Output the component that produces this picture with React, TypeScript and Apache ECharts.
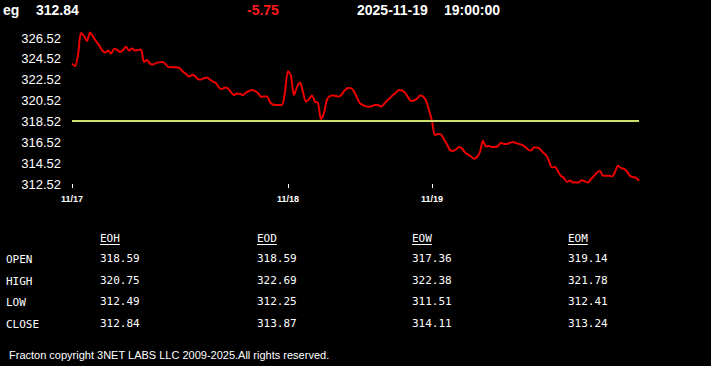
import React, { useEffect, useRef } from "react";
import * as echarts from "echarts";

// ---- data ----
const tickerName = "eg";
const lastPrice = "312.84";
const priceChange = "-5.75";
const dateText = "2025-11-19";
const timeText = "19:00:00";
const prevClose = 318.59;

const price: number[] = [
  324.07, 323.83, 324.89, 327.0, 326.71, 326.23, 327.06, 326.66, 326.23, 325.85,
  325.37, 325.13, 325.32, 325.03, 325.48, 325.42, 325.18, 325.37, 325.68, 325.32,
  325.51, 325.32, 325.37, 325.42, 324.22, 324.41, 324.07, 323.98, 324.12, 324.19,
  324.22, 324.09, 323.77, 323.71, 323.71, 323.71, 323.59, 323.29, 323.07, 322.83,
  322.97, 322.87, 322.59, 322.54, 322.68, 322.75, 322.54, 322.33, 322.2, 321.77,
  321.63, 321.79, 321.68, 321.34, 321.05, 321.2, 321.15, 321.05, 321.29, 321.44,
  321.53, 321.44, 321.25, 320.89, 320.91, 320.91, 320.38, 320.14, 320.11, 320.09,
  320.09, 321.37, 323.35, 322.87, 321.05, 321.82, 322.25, 321.34, 320.43, 320.67,
  321.01, 320.41, 320.29, 318.75, 319.33, 320.62, 320.96, 321.02, 320.96, 320.91,
  321.15, 321.53, 321.74, 321.72, 321.39, 320.81, 320.26, 320.09, 319.97, 319.93,
  320.0, 320.09, 320.09, 319.95, 320.19, 320.53, 320.77, 321.05, 321.29, 321.53,
  321.49, 321.29, 320.86, 320.48, 320.53, 320.69, 321.01, 320.91, 320.53, 319.62,
  318.56, 317.22, 317.31, 317.27, 316.79, 316.31, 315.78, 315.68, 315.83, 316.07,
  315.92, 315.54, 315.35, 315.16, 314.94, 315.11, 315.59, 316.67, 316.12, 316.16,
  316.07, 316.07, 316.16, 316.48, 316.36, 316.36, 316.48, 316.55, 316.45, 316.37,
  316.26, 316.1, 315.83, 315.73, 316.02, 316.02, 315.88, 315.54, 315.3, 314.73,
  314.1, 314.18, 313.72, 313.29, 313.1, 312.71, 312.86, 312.66, 312.66, 312.69,
  312.88, 312.76, 312.66, 313.0, 313.29, 313.62, 313.77, 313.32, 313.32, 313.31,
  313.24, 313.67, 314.27, 314.05, 313.96, 313.72, 313.29, 313.19, 313.11, 312.84,
];

const xTickIndex = [0, 72, 120];
const xTickLabels = ["11/17", "11/18", "11/19"];

const yMin = 312.52;
const yMax = 327.2;
const yStep = 2;

const tableColumns = ["EOH", "EOD", "EOW", "EOM"];
const tableRows = ["OPEN", "HIGH", "LOW", "CLOSE"];
const eohValues = [318.59, 320.75, 312.49, 312.84];
const eodValues = [318.59, 322.69, 312.25, 313.87];
const eowValues = [317.36, 322.38, 311.51, 314.11];
const eomValues = [319.14, 321.78, 312.41, 313.24];

const footerText = "Fracton copyright 3NET LABS LLC 2009-2025.All rights reserved.";

// ---- layout ----
const colX = [100, 257, 412, 568];
const rowY = [259, 281, 302, 324];
const headerY = 238;
const mono = "'DejaVu Sans Mono', 'Liberation Mono', monospace";
const sans = "Arial, 'Liberation Sans', sans-serif";

export default function App() {
  const ref = useRef<HTMLDivElement>(null);

  useEffect(() => {
    if (!ref.current) return;
    const chart = echarts.init(ref.current, undefined, { renderer: "svg" });
    const categories = price.map((_, i) => String(i));
    const tickMap: Record<number, string> = {};
    xTickIndex.forEach((idx, k) => (tickMap[idx] = xTickLabels[k]));
    const showTick = (i: number) => tickMap[i] !== undefined;

    const columnValues = [eohValues, eodValues, eowValues, eomValues];
    const graphics: any[] = [];
    const txt = (text: string, x: number, y: number, fill: string, font: any) => ({
      type: "text",
      x,
      y,
      silent: true,
      style: { text, fill, align: "left", verticalAlign: "middle", ...font },
    });
    const headerFont = { fontSize: 14, fontWeight: "bold", fontFamily: sans };
    graphics.push(txt(tickerName, 3, 9.5, "#ffffff", headerFont));
    graphics.push(txt(lastPrice, 36, 9.5, "#ffffff", headerFont));
    graphics.push(txt(priceChange, 247, 9.5, "#ff1a1a", headerFont));
    graphics.push(txt(dateText, 357, 9.5, "#ffffff", headerFont));
    graphics.push(txt(timeText, 444, 9.5, "#ffffff", headerFont));

    const tableFont = { fontSize: 11, fontFamily: mono };
    tableColumns.forEach((c, ci) => {
      graphics.push(txt(c, colX[ci], headerY, "#ffffff", tableFont));
      graphics.push({
        type: "line",
        silent: true,
        shape: { x1: colX[ci], y1: headerY + 6.5, x2: colX[ci] + c.length * 6.62, y2: headerY + 6.5 },
        style: { stroke: "#ffffff", lineWidth: 1 },
      });
    });
    tableRows.forEach((r, ri) => {
      graphics.push(txt(r, 6, rowY[ri] + 0.5, "#ffffff", tableFont));
      columnValues.forEach((vals, ci) => {
        graphics.push(txt(vals[ri].toFixed(2), colX[ci], rowY[ri] - 0.5, "#ffffff", tableFont));
      });
    });
    graphics.push(txt(footerText, 9, 355, "#ffffff", { fontSize: 11, fontFamily: sans }));

    chart.setOption({
      animation: false,
      backgroundColor: "#000000",
      grid: { left: 72, right: 72, top: 31, bottom: 182, containLabel: false },
      xAxis: {
        type: "category",
        data: categories,
        boundaryGap: false,
        axisLine: { show: false },
        axisTick: {
          show: true,
          length: 4,
          interval: (i: number) => showTick(i),
          lineStyle: { color: "#ffffff", width: 1 },
        },
        axisLabel: {
          interval: (i: number) => showTick(i),
          formatter: (_v: string, i: number) => tickMap[i] ?? "",
          color: "#ffffff",
          fontSize: 9,
          fontWeight: "bold",
          fontFamily: sans,
          margin: 10,
        },
        splitLine: { show: false },
      },
      yAxis: {
        type: "value",
        min: yMin,
        max: yMax,
        interval: yStep,
        axisLine: { show: false },
        axisTick: { show: false },
        splitLine: { show: false },
        axisLabel: {
          color: "#ffffff",
          fontSize: 13,
          fontFamily: sans,
          margin: 11,
          showMaxLabel: false,
          formatter: (v: number) => v.toFixed(2),
        },
      },
      series: [
        {
          type: "line",
          data: price,
          showSymbol: false,
          smooth: 0.3,
          lineStyle: { color: "#ee0000", width: 2 },
          markLine: {
            silent: true,
            symbol: ["none", "none"],
            label: { show: false },
            lineStyle: { color: "#cfe06a", width: 2, type: "solid" },
            data: [{ yAxis: prevClose }],
          },
          z: 3,
        },
      ],
      graphic: graphics,
    });
    return () => chart.dispose();
  }, []);

  return (
    <div
      ref={ref}
      style={{ position: "absolute", left: 0, top: 0, width: 711, height: 366, background: "#000" }}
    />
  );
}
